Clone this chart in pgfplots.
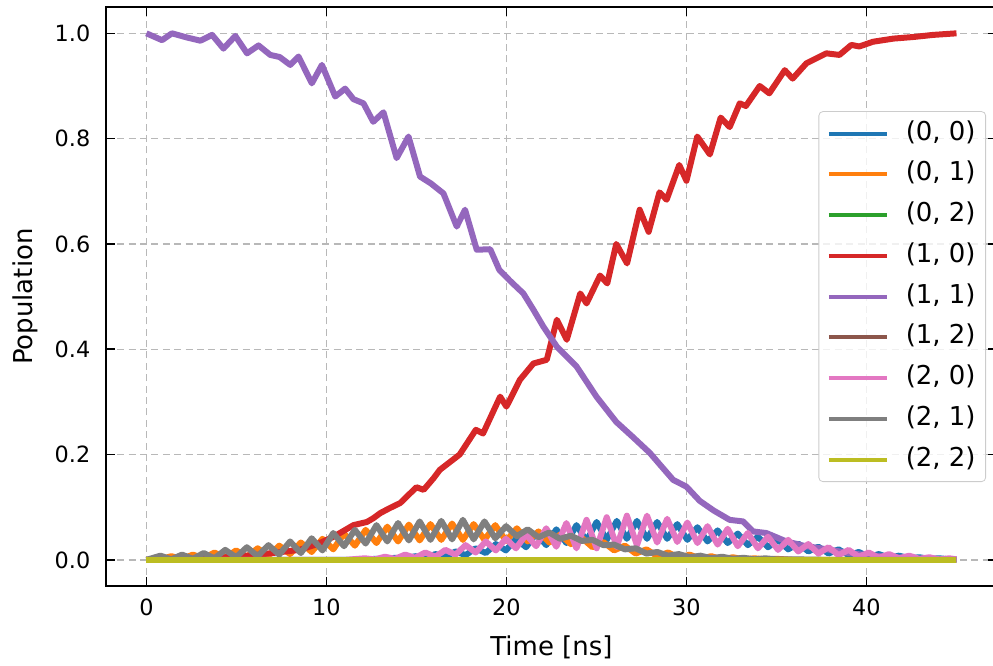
\documentclass[border=0pt]{standalone}
\usepackage{pgfplots}
\pgfplotsset{compat=1.18}
\usepackage{fontspec}
\setmainfont{DejaVu Sans}

\definecolor{c0}{HTML}{1F77B4}
\definecolor{c1}{HTML}{FF7F0E}
\definecolor{c2}{HTML}{2CA02C}
\definecolor{c3}{HTML}{D62728}
\definecolor{c4}{HTML}{9467BD}
\definecolor{c5}{HTML}{8C564B}
\definecolor{c6}{HTML}{E377C2}
\definecolor{c7}{HTML}{7F7F7F}
\definecolor{c8}{HTML}{BCBD22}

\begin{document}
\begin{tikzpicture}
\begin{axis}[
    name=a,
    scale only axis,
    width=446pt,
    height=289.9pt,
    xmin=-2.25, xmax=47.25,
    ymin=-0.05, ymax=1.05,
    xtick={0,10,20,30,40},
    ytick={0,0.2,0.4,0.6,0.8,1.0},
    yticklabel style={/pgf/number format/fixed, /pgf/number format/fixed zerofill,
        /pgf/number format/precision=1, xshift=-4.3pt},
    xticklabel style={yshift=-2.8pt},
    /pgf/number format/assume math mode=true,
    tick align=inside,
    xtick pos=both, ytick pos=both,
    major tick length=4.5pt,
    every tick/.style={black, line width=0.8pt},
    axis line style={line width=0.8pt},
    grid=major,
    major grid style={black!28, line width=0.7pt, dash pattern=on 3.5pt off 2.2pt},
    tick label style={font=\fontsize{11.2}{13}\selectfont},
    label style={font=\fontsize{13}{15}\selectfont},
    xlabel={Time [ns]},
    ylabel={Population},
    xlabel style={at={(rel axis cs:0.5,-0.1059)}, anchor=center},
    ylabel style={at={(rel axis cs:-0.0908,0.5)}, anchor=center},
    no markers,
    every axis plot/.append style={line width=3pt, line join=round},
    legend cell align=left,
    legend image code/.code={\draw[line width=2pt] (0pt,0pt) -- (29pt,0pt);},
    legend style={at={(1,0.5)}, anchor=east, xshift=-5.5pt,
        draw=black!20, rounded corners=2pt, fill=white, fill opacity=0.8, text opacity=1,
        inner sep=3.5pt, inner xsep=4pt, row sep=5.4pt, column sep=7.5pt,
        font=\fontsize{13}{15}\selectfont,
        nodes={inner sep=1pt, text height=9.8pt, text depth=3.2pt}},
]
% (0, 0)
\addplot[c0] coordinates {
(0,0) (11,0) (12.13,0.000) (12.69,0.002) (13.25,0.001) (13.81,0.004) (14.37,0.002)
(14.93,0.007) (15.49,0.004) (16.05,0.011) (16.61,0.006) (17.17,0.016) (17.73,0.009)
(18.29,0.022) (18.85,0.013) (19.41,0.030) (19.97,0.018) (20.53,0.040) (21.09,0.024)
(21.65,0.050) (22.21,0.028) (22.77,0.058) (23.33,0.032) (23.89,0.066) (24.45,0.036)
(25.01,0.072) (25.57,0.038) (26.13,0.074) (26.69,0.040) (27.25,0.074) (27.81,0.040)
(28.37,0.072) (28.93,0.040) (29.49,0.068) (30.05,0.038) (30.61,0.062) (31.17,0.035)
(31.73,0.056) (32.29,0.032) (32.85,0.050) (33.41,0.028) (33.97,0.044) (34.53,0.024)
(35.09,0.038) (35.65,0.020) (36.21,0.031) (36.77,0.016) (37.33,0.025) (37.89,0.012)
(38.45,0.020) (39.01,0.009) (39.57,0.015) (40.13,0.006) (40.69,0.011) (41.25,0.004)
(41.81,0.008) (42.37,0.003) (42.93,0.005) (43.49,0.002) (44.05,0.003) (44.61,0.001) (45,0.001)
};
\addlegendentry{(0, 0)}
% (0, 1)
\addplot[c1] coordinates {
(0,0) (0.78,0.001) (1.38,0.007) (1.98,0.002) (2.58,0.010) (3.18,0.003) (3.78,0.014)
(4.38,0.004) (4.98,0.018) (5.58,0.006) (6.18,0.022) (6.78,0.008) (7.38,0.027)
(7.98,0.011) (8.58,0.033) (9.18,0.015) (9.78,0.040) (10.38,0.020) (10.98,0.050)
(11.58,0.027) (12.18,0.057) (12.78,0.032) (13.38,0.063) (13.98,0.035) (14.58,0.067)
(15.18,0.037) (15.78,0.068) (16.38,0.038) (16.98,0.069) (17.58,0.038) (18.18,0.068)
(18.78,0.038) (19.38,0.066) (19.98,0.036) (20.58,0.060) (21.18,0.035) (21.78,0.054)
(22.38,0.033) (22.98,0.048) (23.58,0.030) (24.18,0.042) (24.78,0.024) (25.38,0.034)
(25.98,0.018) (26.58,0.027) (27.18,0.012) (27.78,0.020) (28.38,0.007) (28.98,0.014)
(29.58,0.004) (30.18,0.010) (30.78,0.002) (31.38,0.007) (31.98,0.001) (32.58,0.005)
(33.18,0.001) (33.78,0.003) (34.4,0.001) (35,0.002) (36,0) (45,0)
};
\addlegendentry{(0, 1)}
% (0, 2)
\addplot[c2] coordinates {(0,0) (45,0)};
\addlegendentry{(0, 2)}
% (1, 0)
\addplot[c3] coordinates {
(0,0) (2,0.001) (4,0.004) (6,0.009) (7,0.013) (8.5,0.019) (9.5,0.030) (10.4,0.044)
(11.5,0.066) (12.25,0.072) (12.6,0.079) (13.0,0.089) (13.5,0.098) (14.1,0.108)
(15.0,0.138) (15.4,0.133) (15.95,0.155) (16.3,0.171) (17.4,0.200) (18.3,0.247)
(18.7,0.240) (19.65,0.310) (20.0,0.291) (20.75,0.342) (21.5,0.373) (22.24,0.380)
(22.8,0.456) (23.35,0.418) (24.1,0.506) (24.45,0.487) (25.2,0.540) (25.6,0.525)
(26.1,0.600) (26.7,0.563) (27.4,0.665) (27.9,0.623) (28.5,0.698) (28.9,0.684)
(29.6,0.750) (30.0,0.720) (30.6,0.804) (31.3,0.770) (31.9,0.840) (32.4,0.822)
(32.96,0.867) (33.3,0.862) (34.07,0.900) (34.6,0.886) (35.46,0.930) (35.9,0.914)
(36.66,0.943) (37.77,0.962) (38.5,0.959) (39.16,0.978) (39.6,0.975) (40.36,0.984)
(41.5,0.990) (42.6,0.993) (43.7,0.997) (45,1.0)
};
\addlegendentry{(1, 0)}
% (1, 1)
\addplot[c4] coordinates {
(0,1.0) (0.87,0.987) (1.42,1.0) (2.26,0.992) (3.0,0.986) (3.65,0.997) (4.28,0.971)
(4.94,0.995) (5.59,0.962) (6.23,0.977) (6.88,0.959) (7.4,0.955) (7.99,0.94) (8.45,0.956)
(9.19,0.905) (9.75,0.940) (10.49,0.880) (11.04,0.895) (11.5,0.875) (12.06,0.867)
(12.6,0.832) (13.17,0.850) (13.9,0.763) (14.56,0.804) (15.2,0.728) (15.8,0.715)
(16.5,0.696) (17.24,0.633) (17.7,0.665) (18.35,0.589) (19.1,0.590) (19.6,0.551)
(20.2,0.530) (20.94,0.506) (21.5,0.475) (22.05,0.443) (22.8,0.405) (23.9,0.367)
(25.0,0.310) (26.1,0.262) (27.0,0.234) (27.97,0.203) (28.6,0.178) (29.26,0.152)
(30.0,0.139) (30.74,0.112) (31.5,0.094) (32.4,0.076) (33.15,0.073) (33.7,0.054)
(34.44,0.051) (35.55,0.035) (36.5,0.027) (38,0.019) (39,0.013) (40,0.009)
(41.5,0.005) (43,0.002) (45,0.001)
};
\addlegendentry{(1, 1)}
% (1, 2)
\addplot[c5] coordinates {(0,0) (45,0)};
\addlegendentry{(1, 2)}
% (2, 0)
\addplot[c6] coordinates {
(0,0) (11,0) (12.13,0.003) (12.69,0.001) (13.25,0.006) (13.81,0.002) (14.37,0.010)
(14.93,0.004) (15.49,0.014) (16.05,0.006) (16.61,0.019) (17.17,0.010) (17.73,0.028)
(18.29,0.014) (18.85,0.035) (19.41,0.018) (19.97,0.040) (20.53,0.022) (21.09,0.048)
(21.65,0.026) (22.21,0.060) (22.77,0.025) (23.33,0.070) (23.89,0.022) (24.45,0.076)
(25.01,0.022) (25.57,0.081) (26.13,0.025) (26.69,0.084) (27.25,0.028) (27.81,0.084)
(28.37,0.033) (28.93,0.078) (29.49,0.034) (30.05,0.071) (30.61,0.032) (31.17,0.064)
(31.73,0.029) (32.29,0.059) (32.85,0.026) (33.41,0.051) (33.97,0.022) (34.53,0.044)
(35.09,0.019) (35.65,0.038) (36.21,0.016) (36.77,0.030) (37.33,0.012) (37.89,0.024)
(38.45,0.009) (39.01,0.019) (39.57,0.006) (40.13,0.014) (40.69,0.004) (41.25,0.011)
(41.81,0.003) (42.37,0.008) (42.93,0.002) (43.49,0.005) (44.05,0.001) (44.61,0.003) (45,0.001)
};
\addlegendentry{(2, 0)}
% (2, 1)
\addplot[c7] coordinates {
(0,0) (0.78,0.008) (1.38,0.001) (1.98,0.010) (2.58,0.002) (3.18,0.013) (3.78,0.003)
(4.38,0.019) (4.98,0.005) (5.58,0.024) (6.18,0.007) (6.78,0.028) (7.38,0.010)
(7.98,0.035) (8.58,0.013) (9.18,0.041) (9.78,0.018) (10.38,0.051) (10.98,0.026)
(11.58,0.057) (12.18,0.031) (12.78,0.066) (13.38,0.035) (13.98,0.070) (14.58,0.037)
(15.18,0.073) (15.78,0.038) (16.38,0.074) (16.98,0.039) (17.58,0.076) (18.18,0.039)
(18.78,0.073) (19.38,0.041) (19.98,0.064) (20.58,0.045) (21.18,0.058) (21.78,0.043)
(22.38,0.052) (22.98,0.040) (23.58,0.046) (24.18,0.036) (24.78,0.038) (25.38,0.028)
(25.98,0.029) (26.58,0.020) (27.18,0.022) (27.78,0.012) (28.38,0.015) (28.98,0.008)
(29.58,0.011) (30.18,0.005) (30.78,0.008) (31.38,0.003) (31.98,0.006) (32.58,0.002)
(33.18,0.004) (33.78,0.001) (34.38,0.003) (35,0.001) (36,0.001) (38,0) (45,0)
};
\addlegendentry{(2, 1)}
% (2, 2)
\addplot[c8] coordinates {(0,0) (45,0)};
\addlegendentry{(2, 2)}
\end{axis}
\pgfresetboundingbox
\path[use as bounding box] ([xshift=-53pt,yshift=-39.7pt]a.south west)
    rectangle ([xshift=-2pt,yshift=3.5pt]a.north east);
\end{tikzpicture}
\end{document}
